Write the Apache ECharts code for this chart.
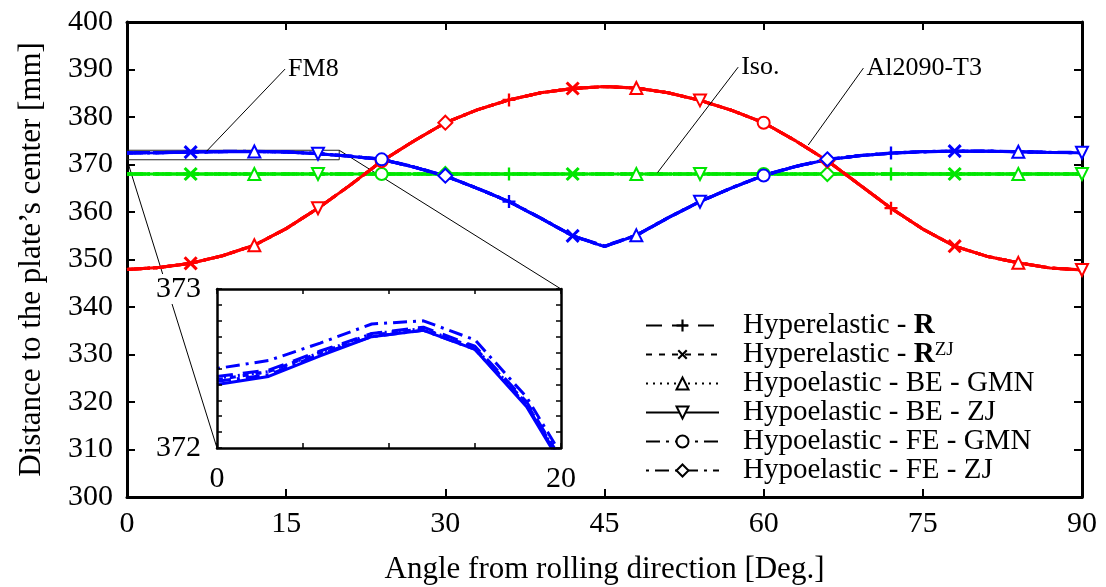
<!DOCTYPE html>
<html>
<head>
<meta charset="utf-8">
<script src="https://cdn.jsdelivr.net/npm/echarts@6/dist/echarts.min.js"></script>
<style>
  html, body { margin: 0; padding: 0; background: #fff; }
  #chart { width: 1106px; height: 587px; }
</style>
</head>
<body>
<div id="chart"></div>
<script>
// Angle from rolling direction (deg), sampled every 3 degrees
const angles = [0, 3, 6, 9, 12, 15, 18, 21, 24, 27, 30, 33, 36, 39, 42, 45,
                48, 51, 54, 57, 60, 63, 66, 69, 72, 75, 78, 81, 84, 87, 90];

// Constitutive formulations compared in the plot
const methodNames = [
  'Hyperelastic - R',
  'Hyperelastic - RZJ',
  'Hypoelastic - BE - GMN',
  'Hypoelastic - BE - ZJ',
  'Hypoelastic - FE - GMN',
  'Hypoelastic - FE - ZJ'
];
const methodLabels = [
  'Hyperelastic - {b|R}',
  'Hyperelastic - {b|R}{sup|ZJ}',
  'Hypoelastic - BE - GMN',
  'Hypoelastic - BE - ZJ',
  'Hypoelastic - FE - GMN',
  'Hypoelastic - FE - ZJ'
];

// FM8 (blue): distance to the plate's center [mm], one array per formulation
const fm8R     = [372.45, 372.49, 372.61, 372.72, 372.76, 372.64, 372.29, 371.75, 371.10, 369.50, 367.60,
                  365.00, 362.20, 358.70, 355.00, 352.80, 355.10, 358.80, 362.20, 365.10, 367.70, 369.60,
                  371.05, 371.85, 372.40, 372.70, 372.82, 372.80, 372.70, 372.55, 372.50];
const fm8RZJ   = [372.43, 372.48, 372.60, 372.71, 372.75, 372.63, 372.28, 371.74, 371.08, 369.48, 367.58,
                  364.98, 362.18, 358.68, 354.98, 352.70, 355.08, 358.78, 362.18, 365.08, 367.68, 369.58,
                  371.03, 371.84, 372.39, 372.69, 372.81, 372.79, 372.69, 372.54, 372.48];
const fm8BEGMN = [372.44, 372.48, 372.60, 372.72, 372.75, 372.63, 372.28, 371.74, 371.09, 369.49, 367.59,
                  364.99, 362.19, 358.69, 354.99, 352.75, 355.09, 358.79, 362.19, 365.09, 367.69, 369.59,
                  371.04, 371.84, 372.39, 372.69, 372.81, 372.79, 372.69, 372.54, 372.49];
const fm8BEZJ  = [372.40, 372.45, 372.58, 372.70, 372.74, 372.62, 372.26, 371.72, 371.07, 369.47, 367.57,
                  364.97, 362.17, 358.67, 354.97, 352.72, 355.07, 358.77, 362.17, 365.07, 367.67, 369.57,
                  371.02, 371.83, 372.38, 372.68, 372.80, 372.78, 372.68, 372.53, 372.46];
const fm8FEGMN = [372.42, 372.46, 372.59, 372.70, 372.74, 372.62, 372.27, 371.73, 371.08, 369.48, 367.58,
                  364.98, 362.18, 358.68, 354.98, 352.78, 355.08, 358.78, 362.18, 365.08, 367.68, 369.58,
                  371.03, 371.83, 372.38, 372.68, 372.80, 372.78, 372.68, 372.53, 372.47];
const fm8FEZJ  = [372.50, 372.55, 372.66, 372.78, 372.80, 372.68, 372.32, 371.78, 371.14, 369.54, 367.64,
                  365.04, 362.24, 358.74, 355.04, 352.85, 355.14, 358.84, 362.24, 365.14, 367.74, 369.64,
                  371.09, 371.89, 372.44, 372.74, 372.86, 372.84, 372.74, 372.59, 372.54];

// Isotropic material (green)
const iso = [368.0, 368.0, 368.0, 368.0, 368.0, 368.0, 368.0, 368.0, 368.0, 368.0, 368.0,
             368.0, 368.0, 368.0, 368.0, 368.0, 368.0, 368.0, 368.0, 368.0, 368.0, 368.0,
             368.0, 368.0, 368.0, 368.0, 368.0, 368.0, 368.0, 368.0, 368.0];

// Al2090-T3 (red)
const al2090 = [347.9, 348.3, 349.2, 350.8, 353.0, 356.5, 360.8, 365.6, 370.7, 374.9, 378.8,
                381.5, 383.6, 385.1, 386.0, 386.4, 386.1, 385.1, 383.5, 381.4, 378.8, 375.0,
                370.8, 365.8, 360.8, 356.4, 352.8, 350.7, 349.3, 348.2, 347.8];

const fm8Curves = [fm8R, fm8RZJ, fm8BEGMN, fm8BEZJ, fm8FEGMN, fm8FEZJ];
const isoCurves = [iso, iso, iso, iso, iso, iso];
const alCurves  = [al2090, al2090, al2090, al2090, al2090, al2090];

// Axis ticks
const mainXTicks = { min: 0, max: 90, interval: 15 };
const mainYTicks = { min: 300, max: 400, interval: 10 };
const zoomXTicks = { min: 0, max: 20, interval: 5 };
const zoomYTicks = { min: 372, max: 373, interval: 0.1 };

// ---------- styling ----------
const FONT = '"Liberation Serif", "DejaVu Serif", serif';
const BLUE = '#0000ff', GREEN = '#00e600', RED = '#ff0000';
const PLUS = 'path://M4.1,0H5.9V4.1H10V5.9H5.9V10H4.1V5.9H0V4.1H4.1Z';
const methodStyles = [
  { dash: [16, 10],       symbol: PLUS,            rotate: 0,   size: 13, border: 0 },
  { dash: [6, 7],         symbol: PLUS,            rotate: 45,  size: 17, border: 0 },
  { dash: [2, 5],         symbol: 'emptyTriangle', rotate: 0,   size: 12, border: 1.8 },
  { dash: 'solid',        symbol: 'emptyTriangle', rotate: 180, size: 12, border: 1.8 },
  { dash: [14, 6, 3, 6],  symbol: 'emptyCircle',   rotate: 0,   size: 12, border: 1.8 },
  { dash: [3, 6, 14, 6],  symbol: 'emptyDiamond',  rotate: 0,   size: 14, border: 1.8 }
];

// markers of formulation k sit every 36 deg, shifted by 6k deg
function isMarker(i, k) { return i > 0 && i % 12 === 2 * k; }

function curveSeries(tag, vals, k, color, axisIdx, withMarks) {
  const st = methodStyles[k];
  const data = angles.map((a, i) => {
    if (withMarks && isMarker(i, k)) return { value: [a, vals[i]] };
    return { value: [a, vals[i]], symbol: 'none' };
  });
  return {
    type: 'line',
    name: tag + ' / ' + methodNames[k],
    xAxisIndex: axisIdx, yAxisIndex: axisIdx,
    data: data,
    symbol: withMarks ? st.symbol : 'none',
    symbolSize: st.size,
    symbolRotate: st.rotate,
    showSymbol: withMarks,
    showAllSymbol: true,
    lineStyle: { color: color, width: 3, type: st.dash },
    itemStyle: { color: color, borderColor: color, borderWidth: st.border },
    silent: true,
    animation: false
  };
}

const series = [];
for (let k = 0; k < 6; k++) series.push(curveSeries('Iso.', isoCurves[k], k, GREEN, 0, true));
for (let k = 0; k < 6; k++) series.push(curveSeries('Al2090-T3', alCurves[k], k, RED, 0, true));
for (let k = 0; k < 6; k++) series.push(curveSeries('FM8', fm8Curves[k], k, BLUE, 0, true));
for (let k = 0; k < 6; k++) series.push(curveSeries('FM8 zoom', fm8Curves[k], k, BLUE, 2, false));
// legend entries (black keys)
for (let k = 0; k < 6; k++) {
  const st = methodStyles[k];
  series.push({
    type: 'line', name: methodNames[k], xAxisIndex: 0, yAxisIndex: 0, data: [],
    symbol: st.symbol, symbolSize: st.size, symbolRotate: st.rotate,
    lineStyle: { color: '#000', width: 3, type: st.dash },
    itemStyle: { color: '#000', borderColor: '#000', borderWidth: st.border },
    animation: false
  });
}

const labelText = { fontFamily: FONT, fontSize: 30, color: '#000' };

function frameAxis(base, extra) {
  return Object.assign({
    type: 'value',
    axisLine: { show: true, onZero: false, lineStyle: { color: '#000', width: 3 } },
    axisTick: { show: true, inside: true, length: 8, lineStyle: { color: '#000', width: 2 } },
    splitLine: { show: false },
    axisLabel: { show: false }
  }, base, extra);
}

const option = {
  backgroundColor: '#fff',
  animation: false,
  grid: [
    { left: 127, top: 22, right: 24, bottom: 90, containLabel: false, outerBoundsMode: 'none' },
    { left: 217, top: 289, width: 344, height: 159, containLabel: false, outerBoundsMode: 'none',
      show: true, backgroundColor: '#fff', borderWidth: 0, z: 3 }
  ],
  xAxis: [
    frameAxis(mainXTicks, {
      gridIndex: 0, position: 'bottom',
      axisLabel: Object.assign({ show: true, margin: 12 }, labelText),
      name: 'Angle from rolling direction [Deg.]', nameLocation: 'middle', nameGap: 57,
      nameTextStyle: { fontFamily: FONT, fontSize: 31, color: '#000' }
    }),
    frameAxis(mainXTicks, { gridIndex: 0, position: 'top' }),
    frameAxis(zoomXTicks, {
      gridIndex: 1, position: 'bottom', z: 5,
      axisLine: { show: true, onZero: false, lineStyle: { color: '#000', width: 2.5 } },
      axisTick: { show: true, inside: true, length: 5, lineStyle: { color: '#000', width: 1.5 } },
      axisLabel: Object.assign({ show: true, margin: 16,
        formatter: v => (v === zoomXTicks.min || v === zoomXTicks.max) ? String(v) : '' }, labelText)
    }),
    frameAxis(zoomXTicks, {
      gridIndex: 1, position: 'top', z: 5,
      axisLine: { show: true, onZero: false, lineStyle: { color: '#000', width: 2.5 } },
      axisTick: { show: true, inside: true, length: 5, lineStyle: { color: '#000', width: 1.5 } }
    })
  ],
  yAxis: [
    frameAxis(mainYTicks, {
      gridIndex: 0, position: 'left',
      axisLabel: Object.assign({ show: true, margin: 14 }, labelText),
      name: 'Distance to the plate\u2019s center [mm]', nameLocation: 'middle', nameGap: 80,
      nameTextStyle: { fontFamily: FONT, fontSize: 31, color: '#000' }
    }),
    frameAxis(mainYTicks, { gridIndex: 0, position: 'right' }),
    frameAxis(zoomYTicks, {
      gridIndex: 1, position: 'left', z: 5,
      axisLine: { show: true, onZero: false, lineStyle: { color: '#000', width: 2.5 } },
      axisTick: { show: true, inside: true, length: 5, lineStyle: { color: '#000', width: 1.5 } },
      axisLabel: Object.assign({ show: true, margin: 16,
        formatter: v => {
          if (Math.abs(v - zoomYTicks.min) < 1e-6) return '{w|' + zoomYTicks.min + '}';
          if (Math.abs(v - zoomYTicks.max) < 1e-6) return '{w|' + zoomYTicks.max + '}';
          return '';
        },
        rich: { w: { fontFamily: FONT, fontSize: 30, color: '#000', backgroundColor: '#fff' } }
      }, labelText)
    }),
    frameAxis(zoomYTicks, {
      gridIndex: 1, position: 'right', z: 5,
      axisLine: { show: true, onZero: false, lineStyle: { color: '#000', width: 2.5 } },
      axisTick: { show: true, inside: true, length: 5, lineStyle: { color: '#000', width: 1.5 } }
    })
  ],
  legend: {
    data: methodNames,
    orient: 'vertical',
    left: 645, top: 311,
    padding: 0,
    itemWidth: 73, itemHeight: 15, itemGap: 0,
    selectedMode: false,
    formatter: name => '{sp| }' + methodLabels[methodNames.indexOf(name)],
    textStyle: {
      fontFamily: FONT, fontSize: 29, color: '#000', lineHeight: 28,
      rich: {
        sp: { width: 19, fontSize: 29, lineHeight: 28 },
        b: { fontFamily: FONT, fontSize: 29, fontWeight: 'bold', color: '#000', lineHeight: 28 },
        sup: { fontFamily: FONT, fontSize: 19, color: '#000', verticalAlign: 'top', lineHeight: 18 }
      }
    }
  },
  series: series
};

const chart = echarts.init(document.getElementById('chart'), null, { renderer: 'canvas' });
chart.setOption(option);

// zoom window, connectors and material annotations
const zoomBox = { x0: 0, x1: 20, y0: 371, y1: 373 };
const annotations = [
  { text: 'FM8',       from: [7.5, 372.8],  to: [14.9, 390.1] },
  { text: 'Iso.',      from: [50.0, 368.3], to: [57.6, 390.5] },
  { text: 'Al2090-T3', from: [64.2, 374.1], to: [69.4, 390.3] }
];
const mainPx = p => chart.convertToPixel({ xAxisIndex: 0, yAxisIndex: 0 }, p);
const zoomPx = p => chart.convertToPixel({ xAxisIndex: 2, yAxisIndex: 2 }, p);

const thin = { stroke: '#000', lineWidth: 1 };
const g = [];
const b0 = mainPx([zoomBox.x0, zoomBox.y1]);
const b1 = mainPx([zoomBox.x1, zoomBox.y0]);
g.push({ type: 'rect', z: 1, silent: true,
  shape: { x: b0[0], y: b0[1], width: b1[0] - b0[0], height: b1[1] - b0[1] },
  style: { fill: null, stroke: '#222', lineWidth: 1 } });
const c1a = mainPx([zoomBox.x1, zoomBox.y1]);
const c1b = zoomPx([zoomXTicks.max, zoomYTicks.max]);
const c2a = mainPx([zoomBox.x0, zoomBox.y0]);
const c2b = zoomPx([zoomXTicks.min, zoomYTicks.min]);
g.push({ type: 'line', z: 1, silent: true, shape: { x1: c1a[0], y1: c1a[1], x2: c1b[0], y2: c1b[1] }, style: thin });
g.push({ type: 'line', z: 1, silent: true, shape: { x1: c2a[0], y1: c2a[1], x2: c2b[0], y2: c2b[1] }, style: thin });
annotations.forEach(a => {
  const p = mainPx(a.from), q = mainPx(a.to);
  g.push({ type: 'line', z: 10, silent: true, shape: { x1: p[0], y1: p[1], x2: q[0], y2: q[1] }, style: thin });
  g.push({ type: 'text', z: 10, silent: true, x: q[0] + 3, y: q[1],
    style: { text: a.text, fontFamily: FONT, fontSize: 26, fill: '#000', align: 'left', verticalAlign: 'middle' } });
});
chart.setOption({ graphic: g });
</script>
</body>
</html>
